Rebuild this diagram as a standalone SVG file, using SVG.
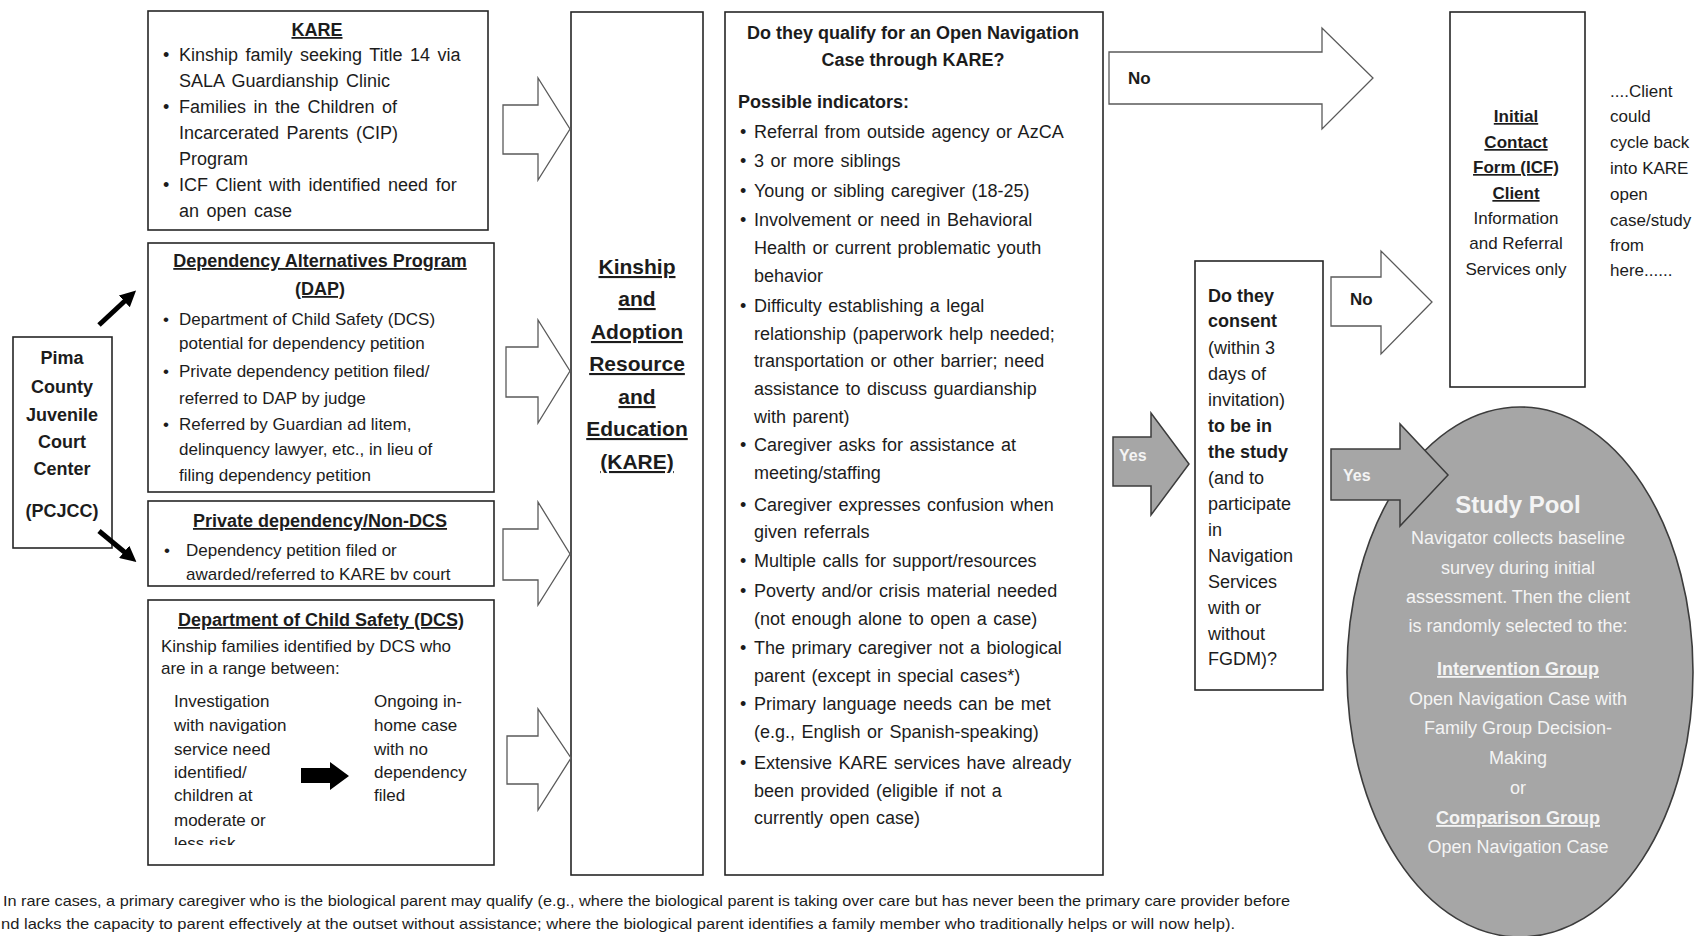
<svg xmlns="http://www.w3.org/2000/svg" width="1699" height="936" viewBox="0 0 1699 936">
<defs>
<style>
.t{font-family:"Liberation Sans",Arial,sans-serif;fill:#1c1c1c}
.b{font-weight:bold}
.u{text-decoration:underline}
.m{text-anchor:middle}
.s18{font-size:18px}
.s17{font-size:17px}
.s21{font-size:21px}
.box{fill:#fff;stroke:#262626;stroke-width:1.6}
.harrow{fill:#fff;stroke:#5a5a5a;stroke-width:1.3}
.garrow{fill:#a6a6a6;stroke:#3c3c3c;stroke-width:1.5}
.lt{fill:#f4f4f4}
</style>
<marker id="blk" markerWidth="16" markerHeight="16" refX="5" refY="8" orient="auto" markerUnits="userSpaceOnUse" viewBox="0 0 16 16">
<path d="M0,0 L16,8 L0,16 z" fill="#000"/>
</marker>
<clipPath id="clipPriv"><rect x="148" y="501" width="346" height="84"/></clipPath>
<clipPath id="clipDcs"><rect x="148" y="600" width="346" height="245"/></clipPath>
</defs>
<rect width="1699" height="936" fill="#fff"/>

<g id="pcjcc">
<rect class="box" x="13" y="337" width="99" height="211"/>
<text class="t b s18 m" x="62" y="364">Pima</text>
<text class="t b s18 m" x="62" y="393">County</text>
<text class="t b s18 m" x="62" y="421">Juvenile</text>
<text class="t b s18 m" x="62" y="448">Court</text>
<text class="t b s18 m" x="62" y="475">Center</text>
<text class="t b s18 m" x="62" y="517">(PCJCC)</text>
</g>

<g id="kare-src">
<rect class="box" x="148" y="11" width="340" height="219"/>
<text class="t b u s18 m" x="317" y="36">KARE</text>
<g style="word-spacing:2.5px">
<text class="t s18" x="163" y="61">•</text><text class="t s18" x="179" y="61">Kinship family seeking Title 14 via</text>
<text class="t s18" x="179" y="87">SALA Guardianship Clinic</text>
<text class="t s18" x="163" y="113">•</text><text class="t s18" x="179" y="113">Families in the Children of</text>
<text class="t s18" x="179" y="139">Incarcerated Parents (CIP)</text>
<text class="t s18" x="179" y="165">Program</text>
<text class="t s18" x="163" y="191">•</text><text class="t s18" x="179" y="191">ICF Client with identified need for</text>
<text class="t s18" x="179" y="217">an open case</text>
</g>
</g>

<g id="dap">
<rect class="box" x="148" y="243" width="346" height="249"/>
<text class="t b u s18 m" x="320" y="267">Dependency Alternatives Program</text>
<text class="t b u s18 m" x="320" y="295">(DAP)</text>
<text class="t s17" x="163" y="325">•</text><text class="t s17" x="179" y="325">Department of Child Safety (DCS)</text>
<text class="t s17" x="179" y="349">potential for dependency petition</text>
<text class="t s17" x="163" y="377">•</text><text class="t s17" x="179" y="377">Private dependency petition filed/</text>
<text class="t s17" x="179" y="404">referred to DAP by judge</text>
<text class="t s17" x="163" y="430">•</text><text class="t s17" x="179" y="430">Referred by Guardian ad litem,</text>
<text class="t s17" x="179" y="455">delinquency lawyer, etc., in lieu of</text>
<text class="t s17" x="179" y="481">filing dependency petition</text>
</g>

<g id="private">
<rect class="box" x="148" y="501" width="346" height="85"/>
<text class="t b u s18 m" x="320" y="527">Private dependency/Non-DCS</text>
<g clip-path="url(#clipPriv)">
<text class="t s17" x="164" y="556">•</text><text class="t s17" x="186" y="556">Dependency petition filed or</text>
<text class="t s17" x="186" y="580">awarded/referred to KARE bv court</text>
</g>
</g>

<g id="dcs">
<rect class="box" x="148" y="600" width="346" height="265"/>
<text class="t b u s18 m" x="321" y="626">Department of Child Safety (DCS)</text>
<text class="t s17" x="161" y="652">Kinship families identified by DCS who</text>
<text class="t s17" x="161" y="674">are in a range between:</text>
<g clip-path="url(#clipDcs)">
<text class="t s17" x="174" y="707">Investigation</text>
<text class="t s17" x="174" y="731">with navigation</text>
<text class="t s17" x="174" y="755">service need</text>
<text class="t s17" x="174" y="778">identified/</text>
<text class="t s17" x="174" y="801">children at</text>
<text class="t s17" x="174" y="826">moderate or</text>
<text class="t s17" x="174" y="849">less risk</text>
</g>
<text class="t s17" x="374" y="707">Ongoing in-</text>
<text class="t s17" x="374" y="731">home case</text>
<text class="t s17" x="374" y="755">with no</text>
<text class="t s17" x="374" y="778">dependency</text>
<text class="t s17" x="374" y="801">filed</text>
<path d="M301,768 H330 V762 L349,776 L330,790 V783 H301 Z" fill="#000"/>
</g>

<g id="kare-col">
<rect class="box" x="571" y="12" width="132" height="863"/>
<text class="t b u s21 m" x="637" y="274">Kinship</text>
<text class="t b u s21 m" x="637" y="306">and</text>
<text class="t b u s21 m" x="637" y="339">Adoption</text>
<text class="t b u s21 m" x="637" y="371">Resource</text>
<text class="t b u s21 m" x="637" y="404">and</text>
<text class="t b u s21 m" x="637" y="436">Education</text>
<text class="t b u s21 m" x="637" y="469">(KARE)</text>
</g>

<g id="qualify">
<rect class="box" x="725" y="12" width="378" height="863"/>
<text class="t b s18 m" x="913" y="39">Do they qualify for an Open Navigation</text>
<text class="t b s18 m" x="913" y="66">Case through KARE?</text>
<text class="t b s18" x="738" y="108">Possible indicators:</text>
<g class="s18" style="word-spacing:1.5px">
<text class="t" x="740" y="138">•</text><text class="t" x="754" y="138">Referral from outside agency or AzCA</text>
<text class="t" x="740" y="167">•</text><text class="t" x="754" y="167">3 or more siblings</text>
<text class="t" x="740" y="197">•</text><text class="t" x="754" y="197">Young or sibling caregiver (18-25)</text>
<text class="t" x="740" y="226">•</text><text class="t" x="754" y="226">Involvement or need in Behavioral</text>
<text class="t" x="754" y="254">Health or current problematic youth</text>
<text class="t" x="754" y="282">behavior</text>
<text class="t" x="740" y="312">•</text><text class="t" x="754" y="312">Difficulty establishing a legal</text>
<text class="t" x="754" y="340">relationship (paperwork help needed;</text>
<text class="t" x="754" y="367">transportation or other barrier; need</text>
<text class="t" x="754" y="395">assistance to discuss guardianship</text>
<text class="t" x="754" y="423">with parent)</text>
<text class="t" x="740" y="451">•</text><text class="t" x="754" y="451">Caregiver asks for assistance at</text>
<text class="t" x="754" y="479">meeting/staffing</text>
<text class="t" x="740" y="511">•</text><text class="t" x="754" y="511">Caregiver expresses confusion when</text>
<text class="t" x="754" y="538">given referrals</text>
<text class="t" x="740" y="567">•</text><text class="t" x="754" y="567">Multiple calls for support/resources</text>
<text class="t" x="740" y="597">•</text><text class="t" x="754" y="597">Poverty and/or crisis material needed</text>
<text class="t" x="754" y="625">(not enough alone to open a case)</text>
<text class="t" x="740" y="654">•</text><text class="t" x="754" y="654">The primary caregiver not a biological</text>
<text class="t" x="754" y="682">parent (except in special cases*)</text>
<text class="t" x="740" y="710">•</text><text class="t" x="754" y="710">Primary language needs can be met</text>
<text class="t" x="754" y="738">(e.g., English or Spanish-speaking)</text>
<text class="t" x="740" y="769">•</text><text class="t" x="754" y="769">Extensive KARE services have already</text>
<text class="t" x="754" y="797">been provided (eligible if not a</text>
<text class="t" x="754" y="824">currently open case)</text>
</g>
</g>

<g id="consent">
<rect class="box" x="1195" y="261" width="128" height="429"/>
<text class="t b s18" x="1208" y="302">Do they</text>
<text class="t b s18" x="1208" y="327">consent</text>
<text class="t s18" x="1208" y="354">(within 3</text>
<text class="t s18" x="1208" y="380">days of</text>
<text class="t s18" x="1208" y="406">invitation)</text>
<text class="t b s18" x="1208" y="432">to be in</text>
<text class="t b s18" x="1208" y="458">the study</text>
<text class="t s18" x="1208" y="484">(and to</text>
<text class="t s18" x="1208" y="510">participate</text>
<text class="t s18" x="1208" y="536">in</text>
<text class="t s18" x="1208" y="562">Navigation</text>
<text class="t s18" x="1208" y="588">Services</text>
<text class="t s18" x="1208" y="614">with or</text>
<text class="t s18" x="1208" y="640">without</text>
<text class="t s18" x="1208" y="665">FGDM)?</text>
</g>

<g id="icf">
<rect class="box" x="1450" y="12" width="135" height="375"/>
<text class="t b u s17 m" x="1516" y="122">Initial</text>
<text class="t b u s17 m" x="1516" y="148">Contact</text>
<text class="t b u s17 m" x="1516" y="173">Form (ICF)</text>
<text class="t b u s17 m" x="1516" y="199">Client</text>
<text class="t s17 m" x="1516" y="224">Information</text>
<text class="t s17 m" x="1516" y="249">and Referral</text>
<text class="t s17 m" x="1516" y="275">Services only</text>
</g>

<g id="cycle-note">
<text class="t s17" x="1610" y="97">....Client</text>
<text class="t s17" x="1610" y="122">could</text>
<text class="t s17" x="1610" y="148">cycle back</text>
<text class="t s17" x="1610" y="174">into KARE</text>
<text class="t s17" x="1610" y="200">open</text>
<text class="t s17" x="1610" y="226">case/study</text>
<text class="t s17" x="1610" y="251">from</text>
<text class="t s17" x="1610" y="276">here......</text>
</g>

<g id="study-pool">
<ellipse cx="1520" cy="672" rx="173" ry="265" fill="#a6a6a6" stroke="#3c3c3c" stroke-width="1.6"/>
<text class="t lt b m" style="font-size:24px" x="1518" y="513">Study Pool</text>
<text class="t lt s18 m" x="1518" y="544">Navigator collects baseline</text>
<text class="t lt s18 m" x="1518" y="574">survey during initial</text>
<text class="t lt s18 m" x="1518" y="603">assessment. Then the client</text>
<text class="t lt s18 m" x="1518" y="632">is randomly selected to the:</text>
<text class="t lt b u s18 m" x="1518" y="675">Intervention Group</text>
<text class="t lt s18 m" x="1518" y="705">Open Navigation Case with</text>
<text class="t lt s18 m" x="1518" y="734">Family Group Decision-</text>
<text class="t lt s18 m" x="1518" y="764">Making</text>
<text class="t lt s18 m" x="1518" y="794">or</text>
<text class="t lt b u s18 m" x="1518" y="824">Comparison Group</text>
<text class="t lt s18 m" x="1518" y="853">Open Navigation Case</text>
</g>

<g id="connectors">
<path class="harrow" d="M503,105 H538 V78 L570,129 L538,180 V154 H503 Z"/>
<path class="harrow" d="M506,347 H538 V320 L570,371 L538,423 V397 H506 Z"/>
<path class="harrow" d="M503,529 H538 V502 L570,554 L538,605 V580 H503 Z"/>
<path class="harrow" d="M507,736 H538 V709 L571,758 L538,810 V784 H507 Z"/>
<path class="harrow" d="M1109,52 H1322 V28 L1373,78 L1322,129 V104 H1109 Z"/>
<text class="t b s17" x="1128" y="84">No</text>
<path class="harrow" d="M1331,277 H1381 V251 L1432,302 L1381,354 V326 H1331 Z"/>
<text class="t b s17" x="1350" y="305">No</text>
<path class="garrow" d="M1113,437 H1151 V413 L1189,464 L1151,515 V486 H1113 Z"/>
<text class="t lt b" style="font-size:16px" x="1119" y="461">Yes</text>
<path class="garrow" d="M1331,449 H1400 V424 L1448,475 L1400,526 V500 H1331 Z"/>
<text class="t lt b" style="font-size:16px" x="1343" y="481">Yes</text>
<line x1="99" y1="325" x2="128" y2="298" stroke="#000" stroke-width="5" marker-end="url(#blk)"/>
<line x1="99" y1="531" x2="128" y2="555" stroke="#000" stroke-width="5" marker-end="url(#blk)"/>
</g>

<g id="footnote">
<text class="t" style="font-size:15px" x="3" y="906" textLength="1287" lengthAdjust="spacingAndGlyphs">In rare cases, a primary caregiver who is the biological parent may qualify (e.g., where the biological parent is taking over care but has never been the primary care provider before</text>
<text class="t" style="font-size:15px" x="1" y="929" textLength="1234" lengthAdjust="spacingAndGlyphs">nd lacks the capacity to parent effectively at the outset without assistance; where the biological parent identifies a family member who traditionally helps or will now help).</text>
</g>
</svg>
